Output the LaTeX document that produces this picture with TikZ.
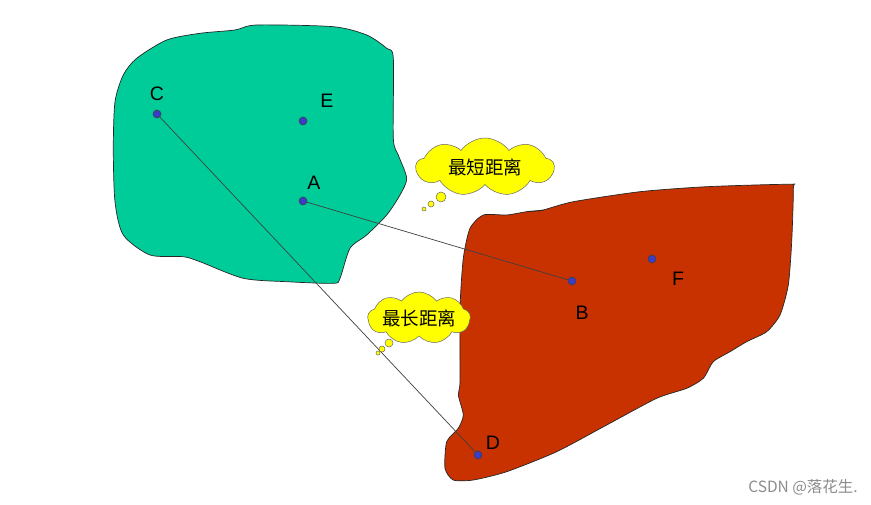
\documentclass[tikz,border=0pt]{standalone}
\usepackage{fontspec}
\setmainfont{Liberation Sans}
\newfontfamily\cjk{Noto Sans CJK SC}
\usetikzlibrary{shapes.symbols}
\definecolor{regiongreen}{RGB}{0,204,153}
\definecolor{regionred}{RGB}{200,50,0}
\definecolor{dotblue}{RGB}{60,60,200}
\definecolor{cloudyellow}{RGB}{255,255,0}
\tikzset{
  pt/.style={circle,fill=dotblue,draw=black!75,line width=0.6pt,inner sep=0pt,minimum size=8pt},
  lbl/.style={font=\fontsize{19.5}{19.5}\selectfont,inner sep=0pt},
  link/.style={draw=black!75,line width=0.7pt},
  region/.style={draw=black!85,line width=0.7pt},
  thought/.style={cloud,cloud puffs=9,cloud puff arc=110,cloud ignores aspect,fill=cloudyellow,draw=black!60,line width=0.5pt,font=\cjk\fontsize{18.5}{18.5}\selectfont,inner sep=0pt},
  bubble/.style={circle,fill=cloudyellow,draw=black!60,line width=0.5pt,inner sep=0pt},
}
\begin{document}
\begin{tikzpicture}[x=1pt,y=-1pt]
\useasboundingbox[fill=white] (0,0) rectangle (871,505);
% green region
\draw[region,fill=regiongreen] plot[smooth cycle,tension=0.45] coordinates {
(136.7,58.3) (166.7,40) (200,33.3) (235,30) (256.7,25) (333.3,26.7) (366.7,35)
(386.7,48.3) (393.3,58) (393.3,138.3) (398.3,155) (406.7,178.3) (400,195)
(386.7,215) (366.7,235) (350,248.3) (340,278.3) (333.3,283.3) (286.7,281.7)
(243.3,278.3) (200,261.7) (183.3,256.7) (150,255) (123.3,235) (115,201.7)
(113.3,148.3) (115,101.7) (123.3,75)};
% red region
\draw[region,fill=regionred] plot[smooth cycle,tension=0.4] coordinates {
(483.3,215) (506.7,215) (526.7,211.7) (543,210) (573.3,201.7) (640,191.7) (706.7,186.7)
(789,184.3) (793.3,188.3) (791.7,241.7) (788.3,285) (780,315) (766.7,331.7)
(746.7,341.7) (730,351.7) (713.3,361.7) (703.3,378.3) (686.7,388.3) (656.7,398.3)
(606.7,425) (556.7,451.7) (506.7,471.7) (473.3,480) (453.3,480) (445,468.3)
(446.7,441.7) (458.3,428.3) (463.3,415) (458.3,395) (460,381.7) (460,308.3)
(463.3,258.3) (470,228.3)};
\draw[region] (527,211.5) -- (543,210.5);
% points
\node[pt] (C) at (157,114) {};
\node[pt] (E) at (303,121) {};
\node[pt] (A) at (303,201) {};
\node[pt] (B) at (572,281) {};
\node[pt] (F) at (652,259) {};
\node[pt] (D) at (478,455) {};
% connectors
\draw[link] (C) -- (D);
\draw[link] (A) -- (B);
% labels
\node[lbl] (lC) at (157,94) {C};
\node[lbl] (lE) at (327,101) {E};
\node[lbl] (lA) at (314,183) {A};
\node[lbl] (lB) at (582,313) {B};
\node[lbl] (lF) at (678,279) {F};
\node[lbl] (lD) at (493,443) {D};
% thought clouds
\node[thought,minimum width=138pt,minimum height=58pt] (short) at (485,167) {最短距离};
\node[bubble,minimum size=10pt] (s1) at (441,197) {};
\node[bubble,minimum size=6pt] (s2) at (431,204) {};
\node[bubble,minimum size=4pt] (s3) at (424,209) {};
\node[thought,minimum width=98pt,minimum height=52pt] (long) at (419,318) {最长距离};
\node[bubble,minimum size=8pt] (l1) at (389,343) {};
\node[bubble,minimum size=6pt] (l2) at (382,349) {};
\node[bubble,minimum size=4pt] (l3) at (378,353) {};
% watermark
\node[font=\cjk\fontsize{15.5}{15.5}\selectfont,text=black!45,inner sep=0pt,anchor=east] (wm) at (858,487) {CSDN @落花生.};
\end{tikzpicture}
\end{document}
